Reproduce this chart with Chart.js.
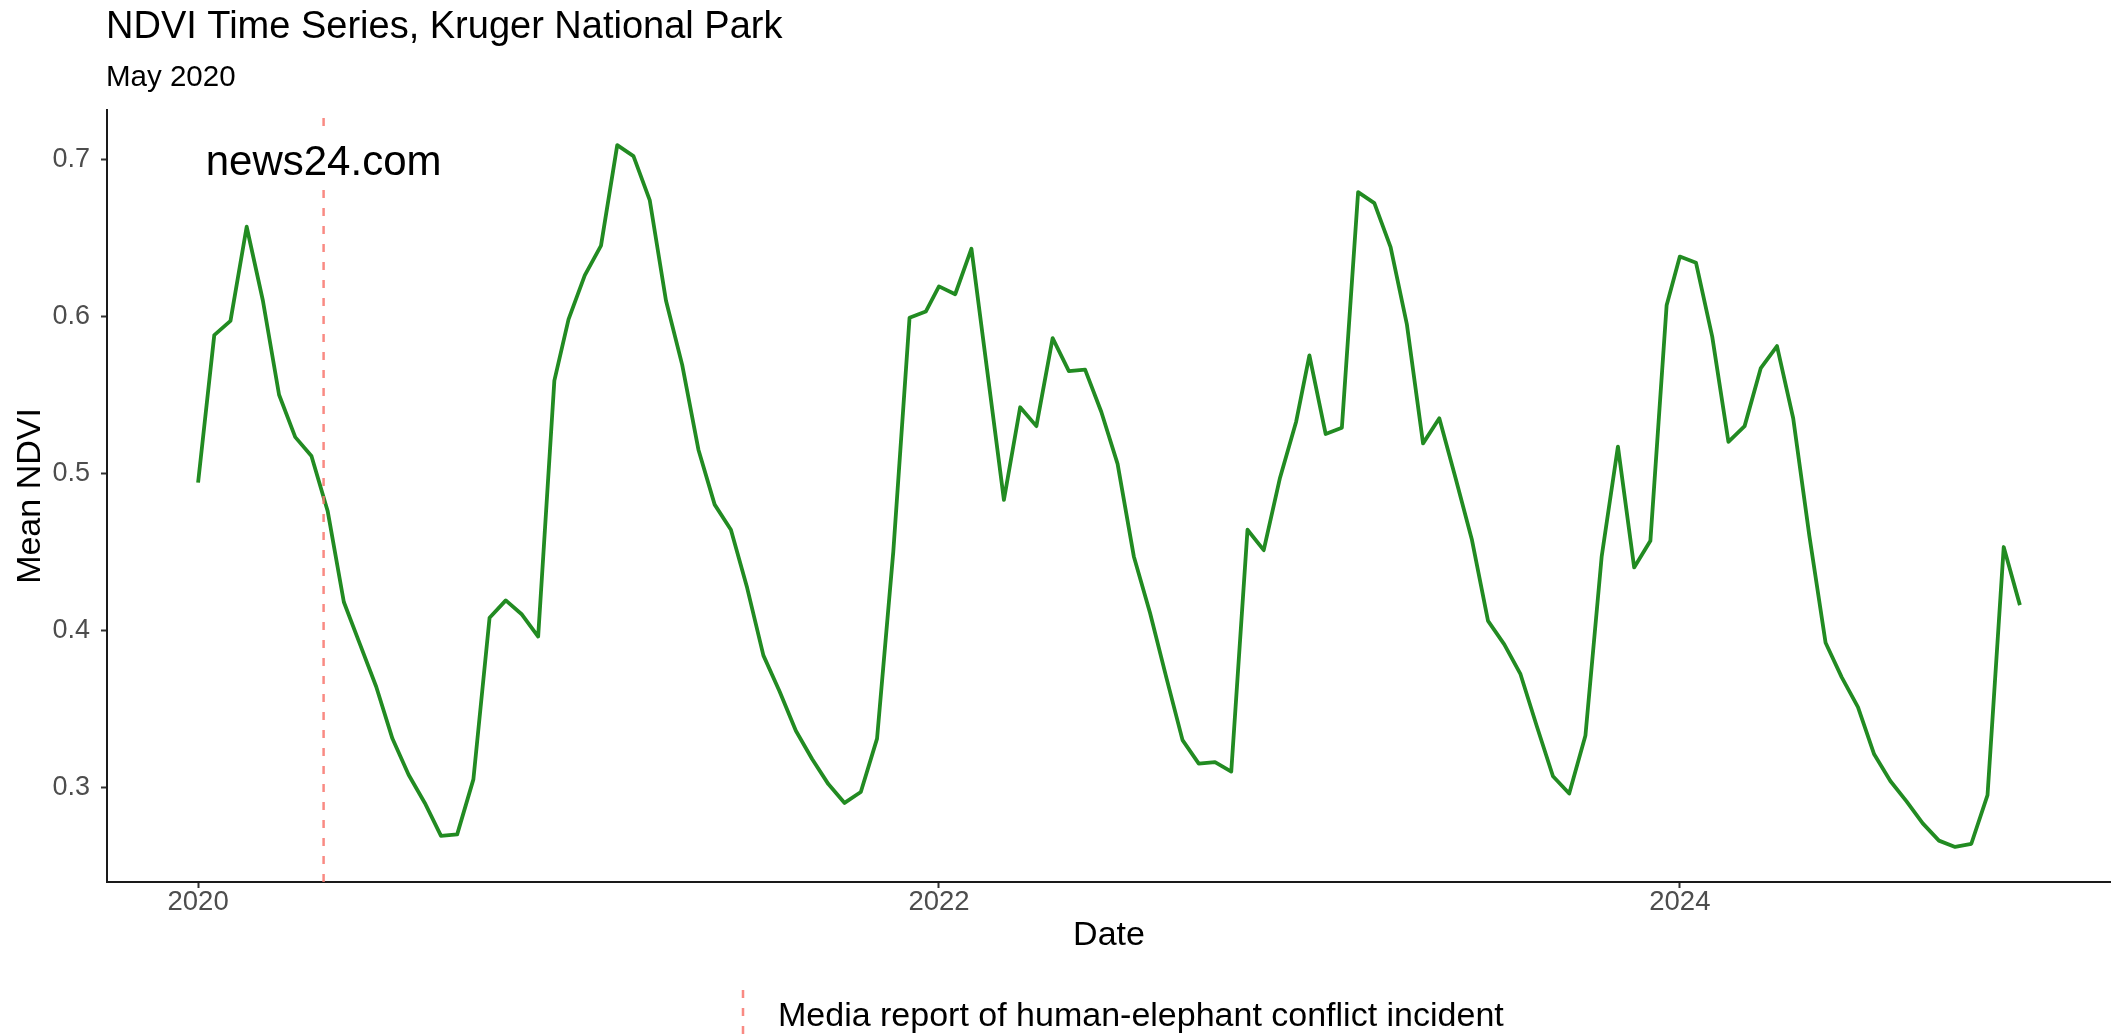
<!DOCTYPE html>
<html>
<head>
<meta charset="utf-8">
<title>NDVI Time Series, Kruger National Park</title>
<script src="https://cdn.jsdelivr.net/npm/chart.js@4.4.1/dist/chart.umd.min.js"></script>
<style>
  html, body { margin: 0; padding: 0; background: #ffffff; overflow: hidden; }
  #wrap { position: relative; width: 2111px; height: 1034px; }
</style>
</head>
<body>
<div id="wrap"><canvas id="chart"></canvas></div>
<script>
// 16-day composite start days (day of year)
const compositeStartDoy = [1, 17, 33, 49, 65, 81, 97, 113, 129, 145, 161, 177,
                           193, 209, 225, 241, 257, 273, 289, 305, 321, 337, 353];

const years = [2020, 2021, 2022, 2023, 2024];

// Mean NDVI per composite, one array per year
const ndvi2020 = [0.494, 0.588, 0.597, 0.657, 0.610, 0.550, 0.523, 0.511, 0.476, 0.418, 0.391, 0.364,
                  0.331, 0.308, 0.290, 0.269, 0.270, 0.305, 0.408, 0.419, 0.410, 0.396, 0.559];
const ndvi2021 = [0.598, 0.626, 0.645, 0.709, 0.702, 0.674, 0.610, 0.569, 0.515, 0.480, 0.464, 0.427,
                  0.384, 0.361, 0.336, 0.318, 0.302, 0.290, 0.297, 0.331, 0.450, 0.599, 0.603];
const ndvi2022 = [0.619, 0.614, 0.643, 0.563, 0.483, 0.542, 0.530, 0.586, 0.565, 0.566, 0.539, 0.506,
                  0.447, 0.411, 0.370, 0.330, 0.315, 0.316, 0.310, 0.464, 0.451, 0.497, 0.533];
const ndvi2023 = [0.575, 0.525, 0.529, 0.679, 0.672, 0.644, 0.595, 0.519, 0.535, 0.497, 0.458, 0.406,
                  0.391, 0.372, 0.339, 0.307, 0.296, 0.333, 0.447, 0.517, 0.440, 0.457, 0.607];
const ndvi2024 = [0.638, 0.634, 0.587, 0.520, 0.530, 0.567, 0.581, 0.535, 0.460, 0.392, 0.370, 0.351,
                  0.321, 0.304, 0.291, 0.277, 0.266, 0.262, 0.264, 0.295, 0.453, 0.416];

const ndviByYear = [ndvi2020, ndvi2021, ndvi2022, ndvi2023, ndvi2024];

// Reported incident: 4 May 2020
const incidentYear = 2020;
const incidentDoy = 125;
const incidentSource = 'news24.com';
const incidentSourceNdvi = 0.7;

const xTickYears = [2020, 2022, 2024];
const yTickValues = [0.3, 0.4, 0.5, 0.6, 0.7];

const titleText = 'NDVI Time Series, Kruger National Park';
const subtitleText = 'May 2020';
const xTitle = 'Date';
const yTitle = 'Mean NDVI';
const legendText = 'Media report of human-elephant conflict incident';

// ---- derived values ----
function daysInYear(y) { return ((y % 4 === 0 && y % 100 !== 0) || y % 400 === 0) ? 366 : 365; }
function decimalYear(y, doy) { return y + (doy - 1) / daysInYear(y); }

const series = [];
years.forEach((yr, i) => {
  ndviByYear[i].forEach((v, k) => series.push({ x: decimalYear(yr, compositeStartDoy[k]), y: v }));
});
const incidentX = decimalYear(incidentYear, incidentDoy);

// 5% padding on each side of the data range
const xs = series.map(p => p.x), ys = series.map(p => p.y);
const xMinD = Math.min(...xs), xMaxD = Math.max(...xs);
const yMinD = Math.min(...ys), yMaxD = Math.max(...ys);
const xPad = (xMaxD - xMinD) * 0.05, yPad = (yMaxD - yMinD) * 0.05;
const xMin = xMinD - xPad, xMax = xMaxD + xPad;
const yMin = yMinD - yPad, yMax = yMaxD + yPad;

const FONT = '"Liberation Sans", Arial, Helvetica, sans-serif';
const EVENT_COLOR = 'rgba(248,118,109,0.85)';
const EVENT_DASH = [8, 10];

const overlayPlugin = {
  id: 'overlay',
  afterDatasetsDraw(chart) {
    const { ctx, scales: { x, y } } = chart;
    const px = x.getPixelForValue(incidentX);
    const py = y.getPixelForValue(incidentSourceNdvi);
    ctx.save();
    ctx.font = '42px ' + FONT;
    const w = ctx.measureText(incidentSource).width;
    ctx.fillStyle = '#ffffff';
    ctx.fillRect(px - w / 2 - 8, py - 28, w + 16, 56);
    ctx.fillStyle = '#000000';
    ctx.textAlign = 'center';
    ctx.textBaseline = 'alphabetic';
    ctx.fillText(incidentSource, px, py + 16);
    ctx.restore();
  },
  afterDraw(chart) {
    const { ctx, chartArea } = chart;
    ctx.save();
    ctx.fillStyle = '#000000';
    ctx.textAlign = 'left';
    ctx.textBaseline = 'alphabetic';
    ctx.font = '38px ' + FONT;
    ctx.fillText(titleText, 106, 38);
    ctx.font = '29.5px ' + FONT;
    ctx.fillText(subtitleText, 106, 86);

    // legend below the x axis
    const cx = (chartArea.left + chartArea.right) / 2;
    const keyX = Math.round(cx - 366);
    ctx.strokeStyle = EVENT_COLOR;
    ctx.lineWidth = 2.5;
    ctx.setLineDash(EVENT_DASH);
    ctx.beginPath();
    ctx.moveTo(keyX, 990);
    ctx.lineTo(keyX, 1040);
    ctx.stroke();
    ctx.setLineDash([]);
    ctx.font = '34px ' + FONT;
    ctx.fillStyle = '#000000';
    ctx.fillText(legendText, cx - 331, 1026);
    ctx.restore();
  }
};

Chart.defaults.font.family = FONT;

new Chart(document.getElementById('chart'), {
  type: 'line',
  data: {
    datasets: [
      {
        label: legendText,
        data: [{ x: incidentX, y: yMin }, { x: incidentX, y: yMax }],
        borderColor: EVENT_COLOR,
        borderWidth: 2.5,
        borderDash: EVENT_DASH,
        pointRadius: 0,
        order: 0
      },
      {
        label: 'Mean NDVI',
        data: series,
        borderColor: '#228B22',
        borderWidth: 3.8,
        borderJoinStyle: 'round',
        borderCapStyle: 'butt',
        tension: 0,
        pointRadius: 0,
        fill: false,
        order: 1
      }
    ]
  },
  options: {
    responsive: true,
    maintainAspectRatio: false,
    animation: false,
    devicePixelRatio: 1,
    layout: { padding: { top: 110, right: 0, bottom: 72, left: 0 } },
    plugins: {
      legend: { display: false },
      title: { display: false },
      tooltip: { enabled: false }
    },
    scales: {
      x: {
        type: 'linear',
        min: xMin,
        max: xMax,
        afterBuildTicks: (scale) => { scale.ticks = xTickYears.map(v => ({ value: v })); },
        afterFit: (scale) => { scale.height = 80; },
        ticks: {
          callback: (v) => String(v),
          color: '#4d4d4d',
          font: { size: 27.5, lineHeight: 1 },
          padding: 1,
          maxRotation: 0
        },
        grid: { display: true, drawOnChartArea: false, drawTicks: true, tickLength: 6, tickWidth: 2, tickColor: '#333333' },
        border: { display: true, color: '#1a1a1a', width: 2 },
        title: { display: true, text: xTitle, color: '#000000', font: { size: 34, lineHeight: 1.2 }, padding: { top: 0, bottom: 6 } }
      },
      y: {
        type: 'linear',
        min: yMin,
        max: yMax,
        afterBuildTicks: (scale) => { scale.ticks = yTickValues.map(v => ({ value: v })); },
        afterFit: (scale) => { scale.width = 107; },
        ticks: {
          callback: (v) => v.toFixed(1),
          color: '#4d4d4d',
          font: { size: 27 },
          padding: 11
        },
        grid: { display: true, drawOnChartArea: false, drawTicks: true, tickLength: 6, tickWidth: 2, tickColor: '#333333' },
        border: { display: true, color: '#1a1a1a', width: 2 },
        title: { display: true, text: yTitle, color: '#000000', font: { size: 34, lineHeight: 1.2 }, padding: { top: 10, bottom: 0 } }
      }
    }
  },
  plugins: [overlayPlugin]
});
</script>
</body>
</html>
